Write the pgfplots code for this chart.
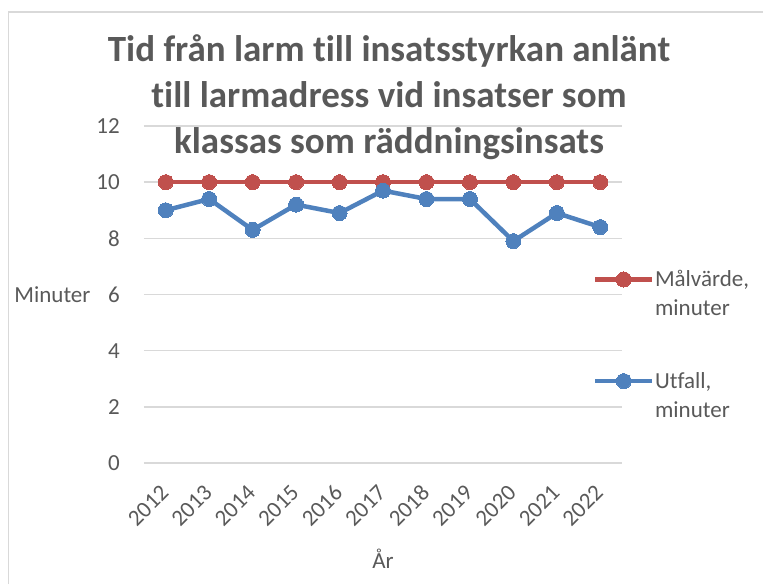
\documentclass[border=0pt]{standalone}
\usepackage{pgfplots}
\pgfplotsset{compat=1.18}
\usepackage{fontspec}
\setmainfont{Carlito}[Ligatures=NoCommon]
\definecolor{txt}{HTML}{595959}
\definecolor{gridc}{HTML}{D9D9D9}
\definecolor{redc}{HTML}{C0504D}
\definecolor{bluec}{HTML}{4F81BD}
\begin{document}
\begin{tikzpicture}[x=1pt,y=1pt]
\path[use as bounding box] (0,0) rectangle (763,584);
\draw[gridc, line width=1.5pt] (8.5,0) -- (8.5,572) -- (763,572);
\begin{axis}[
  at={(144pt,121pt)}, anchor=south west,
  scale only axis, width=478pt, height=337pt,
  xmin=-0.5, xmax=10.5, ymin=0, ymax=12,
  xtick={0,...,10},
  xticklabels={2012,2013,2014,2015,2016,2017,2018,2019,2020,2021,2022},
  ytick={0,2,...,12},
  axis line style={draw=none},
  major tick length=0pt,
  ymajorgrids, grid style={gridc, line width=1.4pt},
  /pgf/number format/assume math mode=true,
  tick label style={font=\fontsize{23}{27}\selectfont, text=txt},
  yticklabel style={anchor=east, inner sep=0pt, xshift=-24pt},
  xticklabel style={inner sep=0pt, xshift=-1pt, yshift=-26pt, rotate=45, anchor=east},
  xlabel={År},
  xlabel style={font=\fontsize{23}{27}\selectfont, text=txt, at={(axis description cs:0.5,0)}, anchor=center, yshift=-96pt},
  ylabel={Minuter},
  ylabel style={font=\fontsize{23}{27}\selectfont, text=txt, rotate=-90, at={(axis description cs:0,0.5)}, anchor=east, xshift=-50pt},
  clip=false,
  legend style={at={(0.939,0.573)}, anchor=north west, draw=none, fill=none, inner sep=0pt,
    font=\fontsize{23}{29}\selectfont, text=txt, row sep=83pt,
    nodes={inner sep=0.5pt}},
  legend cell align=left,
  legend image code/.code={\draw[mark repeat=2, mark phase=2] plot coordinates {(0pt,0pt) (28.5pt,0pt) (57pt,0pt)};},
]
\addplot[redc, line width=4.5pt, mark=*, mark size=7.5pt, mark options={solid, fill=redc, draw=redc, line width=0pt}]
  coordinates {(0,10)(1,10)(2,10)(3,10)(4,10)(5,10)(6,10)(7,10)(8,10)(9,10)(10,10)};
\addlegendentry{\parbox[t]{100pt}{Målvärde,\\minuter}}
\addplot[bluec, line width=4.5pt, mark=*, mark size=7.5pt, mark options={solid, fill=bluec, draw=bluec, line width=0pt}]
  coordinates {(0,9.0)(1,9.4)(2,8.3)(3,9.2)(4,8.9)(5,9.7)(6,9.4)(7,9.4)(8,7.9)(9,8.9)(10,8.4)};
\addlegendentry{\parbox[t]{100pt}{Utfall,\\minuter}}
\end{axis}
\node[align=center, text=txt, font=\fontsize{37}{46}\selectfont\bfseries] at (389,487) {Tid från larm till insatsstyrkan anlänt\\till larmadress vid insatser som\\klassas som räddningsinsats};
\end{tikzpicture}
\end{document}
